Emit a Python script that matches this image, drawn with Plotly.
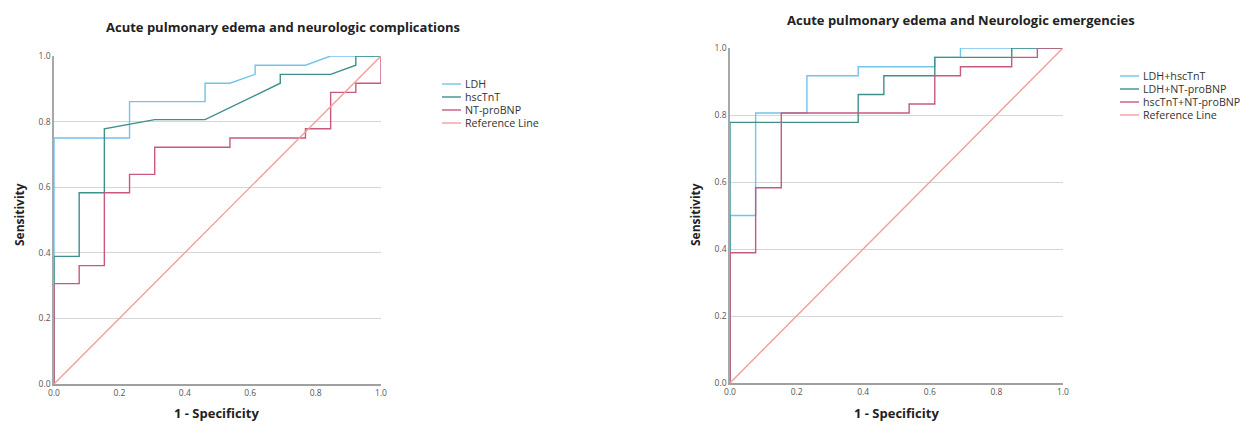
import plotly.graph_objects as go

W, H = 1250, 424

# ---------------- data ----------------
left_title = "Acute pulmonary edema and neurologic complications"
right_title = "Acute pulmonary edema and Neurologic emergencies"

left_names = ["LDH", "hscTnT", "NT-proBNP", "Reference Line"]
right_names = ["LDH+hscTnT", "LDH+NT-proBNP", "hscTnT+NT-proBNP", "Reference Line"]

ldh_x = [0, 0, 0.231, 0.231, 0.462, 0.462, 0.538, 0.615, 0.615, 0.769, 0.846, 1.0]
ldh_y = [0, 0.75, 0.75, 0.861, 0.861, 0.917, 0.917, 0.944, 0.972, 0.972, 1.0, 1.0]

hsc_x = [0, 0, 0.077, 0.077, 0.154, 0.154, 0.308, 0.462, 0.692, 0.692, 0.846, 0.923, 0.923, 1.0]
hsc_y = [0, 0.389, 0.389, 0.583, 0.583, 0.778, 0.806, 0.806, 0.917, 0.944, 0.944, 0.972, 1.0, 1.0]

nt_x = [0, 0, 0.077, 0.077, 0.154, 0.154, 0.231, 0.231, 0.308, 0.308, 0.538, 0.538,
        0.769, 0.769, 0.846, 0.846, 0.923, 0.923, 1.0, 1.0]
nt_y = [0, 0.306, 0.306, 0.361, 0.361, 0.583, 0.583, 0.639, 0.639, 0.722, 0.722, 0.75,
        0.75, 0.778, 0.778, 0.889, 0.889, 0.917, 0.917, 1.0]

ldh_hsc_x = [0, 0, 0.077, 0.077, 0.231, 0.231, 0.385, 0.385, 0.615, 0.615, 0.692, 0.692, 1.0]
ldh_hsc_y = [0, 0.5, 0.5, 0.806, 0.806, 0.917, 0.917, 0.944, 0.944, 0.972, 0.972, 1.0, 1.0]

ldh_nt_x = [0, 0, 0.385, 0.385, 0.462, 0.462, 0.615, 0.615, 0.846, 0.846, 1.0]
ldh_nt_y = [0, 0.778, 0.778, 0.861, 0.861, 0.917, 0.917, 0.972, 0.972, 1.0, 1.0]

hsc_nt_x = [0, 0, 0.077, 0.077, 0.154, 0.154, 0.538, 0.538, 0.615, 0.615, 0.692, 0.692,
            0.846, 0.846, 0.923, 0.923, 1.0]
hsc_nt_y = [0, 0.389, 0.389, 0.583, 0.583, 0.806, 0.806, 0.833, 0.833, 0.917, 0.917, 0.944,
            0.944, 0.972, 0.972, 1.0, 1.0]

ref_x = [0, 1]
ref_y = [0, 1]

tick_vals = [0, 0.2, 0.4, 0.6, 0.8, 1.0]
tick_text = ["0.0", "0.2", "0.4", "0.6", "0.8", "1.0"]

colors = ["#72c4ea", "#3f8f8b", "#c9587e", "#f59c9c"]

# ---------------- figure ----------------
fig = go.Figure()

FONT = "Open Sans"

def add_curves(xs, ys, names, xa, ya):
    for x, y, n, c in zip(xs, ys, names, colors):
        fig.add_trace(go.Scatter(x=x, y=y, mode="lines", name=n,
                                 line=dict(color=c, width=1.4),
                                 xaxis=xa, yaxis=ya, showlegend=False,
                                 hoverinfo="x+y+name"))

add_curves([ldh_x, hsc_x, nt_x, ref_x], [ldh_y, hsc_y, nt_y, ref_y], left_names, "x", "y")
add_curves([ldh_hsc_x, ldh_nt_x, hsc_nt_x, ref_x], [ldh_hsc_y, ldh_nt_y, hsc_nt_y, ref_y],
           right_names, "x2", "y2")

# the page body adds an 8px offset around the figure
OX, OY = 8.0, 8.0

def px_x(p):
    return (p - OX) / W

def px_y(p):
    return 1 - (p - OY) / H

axis_common = dict(range=[0, 1], tickvals=tick_vals, ticktext=tick_text,
                   tickfont=dict(family=FONT, size=8.5, color="#555"),
                   ticks="", zeroline=False, fixedrange=True, automargin=False)

fig.update_layout(
    width=W, height=H,
    margin=dict(l=0, r=0, t=0, b=0),
    paper_bgcolor="white", plot_bgcolor="white",
    xaxis=dict(domain=[px_x(54), px_x(381)], anchor="y", showgrid=False,
               showline=True, linecolor="#a0a0a0", linewidth=2, layer="below traces",
               **axis_common),
    yaxis=dict(domain=[px_y(384), px_y(56)], anchor="x", showgrid=True,
               gridcolor="#d6d6d6", gridwidth=1, showline=True, linecolor="#a8a8a8",
               linewidth=1.5, layer="below traces", **axis_common),
    xaxis2=dict(domain=[px_x(730), px_x(1063)], anchor="y2", showgrid=False,
                showline=True, linecolor="#a0a0a0", linewidth=2, layer="below traces",
                **axis_common),
    yaxis2=dict(domain=[px_y(383), px_y(48)], anchor="x2", showgrid=True,
                gridcolor="#d6d6d6", gridwidth=1, showline=True, linecolor="#a8a8a8",
                linewidth=1.5, layer="below traces", **axis_common),
)

ann = []
shapes = []

def text(x, y, s, size, bold=False, angle=0, xanchor="center", color="#222"):
    ann.append(dict(x=px_x(x), y=px_y(y), xref="paper", yref="paper", text=s,
                    showarrow=False, xanchor=xanchor, yanchor="middle", textangle=angle,
                    font=dict(family=FONT, size=size, color=color,
                              weight="bold" if bold else "normal")))

# titles
text(283, 27, left_title, 13, bold=True)
text(961, 20, right_title, 13, bold=True)
# axis titles
text(19, 215, "Sensitivity", 12, bold=True, angle=-90)
text(695, 215, "Sensitivity", 12, bold=True, angle=-90)
text(217, 413, "1 - Specificity", 13, bold=True)
text(896, 413, "1 - Specificity", 13, bold=True)

# legends
def legend(x0, y0, names, step=13):
    for i, (n, c) in enumerate(zip(names, colors)):
        y = y0 + i * step
        shapes.append(dict(type="line", xref="paper", yref="paper",
                           x0=px_x(x0), x1=px_x(x0 + 19), y0=px_y(y), y1=px_y(y),
                           line=dict(color=c, width=1.4)))
        text(x0 + 21, y, n, 10.7, xanchor="left", color="#333")

legend(442, 84, left_names)
legend(1120, 76, right_names)

fig.update_layout(annotations=ann, shapes=shapes)

fig.write_html("out.html")
